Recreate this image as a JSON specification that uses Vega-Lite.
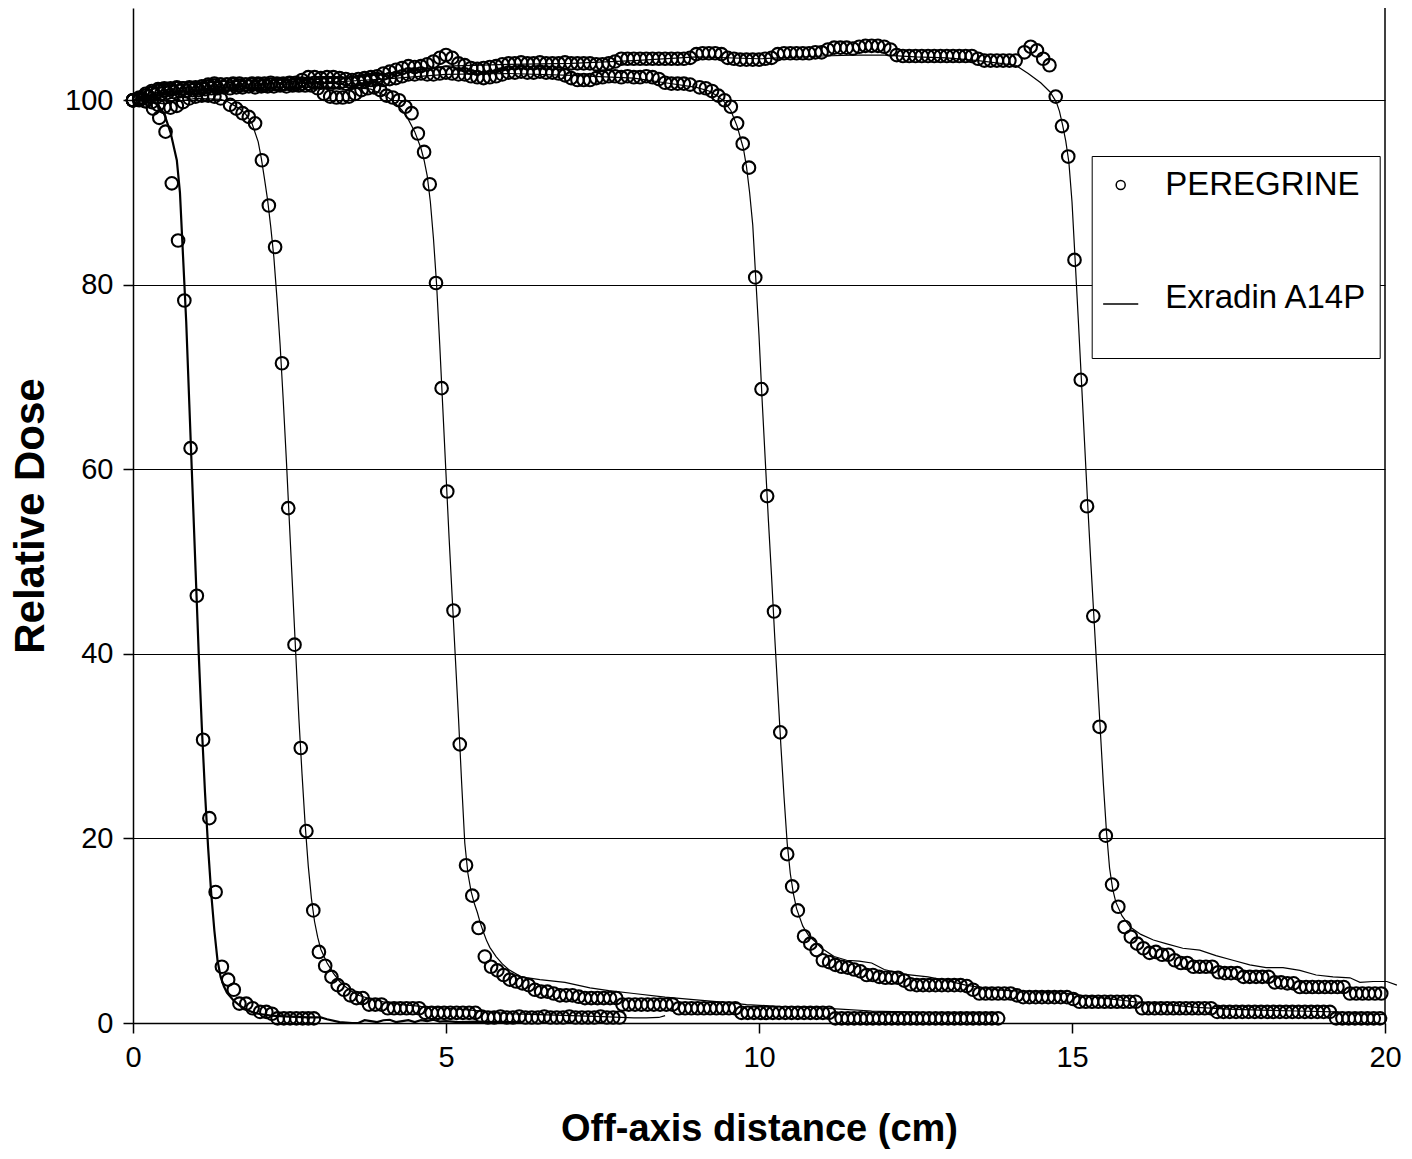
{
"$schema":"https://vega.github.io/schema/vega-lite/v6.json",
"width":1252,"height":1015,
"autosize":{"type":"none"},
"padding":{"left":133,"top":8,"right":27,"bottom":136},
"background":"white",
"config":{"view":{"stroke":null},"font":"Liberation Sans",
"axis":{"domainColor":"black","domainWidth":1.5,"tickColor":"black","tickWidth":1.5,"tickSize":10,"labelFont":"Liberation Sans","labelFontSize":29,"labelColor":"black","titleFont":"Liberation Sans","titleFontSize":38,"titleFontWeight":"bold","titleColor":"black","gridColor":"black","gridWidth":1,"gridOpacity":1,"labelFlush":false,"labelOverlap":false}},
"datasets":{
"pg":[
{"p":1,"x":0,"y":100},{"p":1,"x":0.1,"y":100},{"p":1,"x":0.2,"y":99.9},{"p":1,"x":0.32,"y":99.1},{"p":1,"x":0.42,"y":98.1},{"p":1,"x":0.52,"y":96.6},{"p":1,"x":0.62,"y":91},{"p":1,"x":0.72,"y":84.8},{"p":1,"x":0.82,"y":78.3},{"p":1,"x":0.92,"y":62.3},{"p":1,"x":1.02,"y":46.3},{"p":1,"x":1.12,"y":30.7},{"p":1,"x":1.22,"y":22.2},{"p":1,"x":1.32,"y":14.2},{"p":1,"x":1.42,"y":6.1},{"p":1,"x":1.52,"y":4.7},{"p":1,"x":1.61,"y":3.6},{"p":1,"x":1.7,"y":2.1},{"p":1,"x":1.81,"y":2.1},{"p":1,"x":1.91,"y":1.6},{"p":1,"x":2.03,"y":1.2},{"p":1,"x":2.13,"y":1.2},{"p":1,"x":2.22,"y":1.0},{"p":1,"x":2.31,"y":0.5},{"p":1,"x":2.41,"y":0.5},{"p":1,"x":2.51,"y":0.5},{"p":1,"x":2.61,"y":0.5},{"p":1,"x":2.71,"y":0.5},{"p":1,"x":2.8,"y":0.5},{"p":1,"x":2.89,"y":0.5},
{"p":2,"x":0,"y":100},{"p":2,"x":0.1,"y":100.1},{"p":2,"x":0.2,"y":99.9},{"p":2,"x":0.3,"y":99.8},{"p":2,"x":0.4,"y":99.5},{"p":2,"x":0.5,"y":99.3},{"p":2,"x":0.6,"y":99.2},{"p":2,"x":0.7,"y":99.4},{"p":2,"x":0.8,"y":99.8},{"p":2,"x":0.9,"y":100.2},{"p":2,"x":1.0,"y":100.4},{"p":2,"x":1.1,"y":100.5},{"p":2,"x":1.2,"y":100.5},{"p":2,"x":1.3,"y":100.4},{"p":2,"x":1.4,"y":100.2},{"p":2,"x":1.55,"y":99.5},{"p":2,"x":1.65,"y":99.1},{"p":2,"x":1.75,"y":98.6},{"p":2,"x":1.85,"y":98.2},{"p":2,"x":1.95,"y":97.5},{"p":2,"x":2.06,"y":93.5},{"p":2,"x":2.17,"y":88.6},{"p":2,"x":2.27,"y":84.1},{"p":2,"x":2.38,"y":71.5},{"p":2,"x":2.48,"y":55.8},{"p":2,"x":2.58,"y":41},{"p":2,"x":2.68,"y":29.8},{"p":2,"x":2.77,"y":20.8},{"p":2,"x":2.88,"y":12.2},{"p":2,"x":2.97,"y":7.7},{"p":2,"x":3.07,"y":6.2},{"p":2,"x":3.17,"y":5.0},{"p":2,"x":3.27,"y":4.1},{"p":2,"x":3.37,"y":3.6},{"p":2,"x":3.47,"y":3.0},{"p":2,"x":3.57,"y":2.7},{"p":2,"x":3.67,"y":2.7},{"p":2,"x":3.77,"y":2.0},{"p":2,"x":3.87,"y":2.0},{"p":2,"x":3.97,"y":2.0},{"p":2,"x":4.07,"y":1.6},{"p":2,"x":4.17,"y":1.6},{"p":2,"x":4.27,"y":1.6},{"p":2,"x":4.37,"y":1.6},{"p":2,"x":4.47,"y":1.6},{"p":2,"x":4.57,"y":1.6},{"p":2,"x":4.67,"y":1.1},{"p":2,"x":4.77,"y":1.1},{"p":2,"x":4.87,"y":1.1},{"p":2,"x":4.97,"y":1.1},{"p":2,"x":5.07,"y":1.1},{"p":2,"x":5.17,"y":1.1},{"p":2,"x":5.27,"y":1.1},{"p":2,"x":5.37,"y":1.1},{"p":2,"x":5.47,"y":1.1},{"p":2,"x":5.57,"y":0.7},{"p":2,"x":5.67,"y":0.6},{"p":2,"x":5.77,"y":0.6},{"p":2,"x":5.87,"y":0.7},{"p":2,"x":5.97,"y":0.6},{"p":2,"x":6.07,"y":0.6},{"p":2,"x":6.17,"y":0.7},{"p":2,"x":6.27,"y":0.6},{"p":2,"x":6.37,"y":0.6},{"p":2,"x":6.47,"y":0.6},{"p":2,"x":6.57,"y":0.7},{"p":2,"x":6.67,"y":0.6},{"p":2,"x":6.77,"y":0.6},{"p":2,"x":6.87,"y":0.6},{"p":2,"x":6.97,"y":0.7},{"p":2,"x":7.07,"y":0.6},{"p":2,"x":7.17,"y":0.6},{"p":2,"x":7.27,"y":0.6},{"p":2,"x":7.37,"y":0.6},{"p":2,"x":7.47,"y":0.7},{"p":2,"x":7.57,"y":0.6},{"p":2,"x":7.67,"y":0.6},{"p":2,"x":7.77,"y":0.6},
{"p":3,"x":0,"y":100},{"p":3,"x":0.15,"y":100.2},{"p":3,"x":0.25,"y":100.4},{"p":3,"x":0.35,"y":100.6},{"p":3,"x":0.45,"y":100.7},{"p":3,"x":0.55,"y":100.8},{"p":3,"x":0.65,"y":100.9},{"p":3,"x":0.75,"y":101.0},{"p":3,"x":0.85,"y":101.0},{"p":3,"x":0.95,"y":101.1},{"p":3,"x":1.05,"y":101.1},{"p":3,"x":1.15,"y":101.2},{"p":3,"x":1.25,"y":101.3},{"p":3,"x":1.35,"y":101.3},{"p":3,"x":1.45,"y":101.4},{"p":3,"x":1.55,"y":101.3},{"p":3,"x":1.65,"y":101.4},{"p":3,"x":1.75,"y":101.4},{"p":3,"x":1.85,"y":101.5},{"p":3,"x":1.95,"y":101.4},{"p":3,"x":2.05,"y":101.5},{"p":3,"x":2.15,"y":101.5},{"p":3,"x":2.25,"y":101.5},{"p":3,"x":2.35,"y":101.6},{"p":3,"x":2.45,"y":101.5},{"p":3,"x":2.55,"y":101.6},{"p":3,"x":2.65,"y":101.6},{"p":3,"x":2.75,"y":101.6},{"p":3,"x":2.85,"y":101.6},{"p":3,"x":2.95,"y":101.3},{"p":3,"x":3.05,"y":100.7},{"p":3,"x":3.15,"y":100.4},{"p":3,"x":3.25,"y":100.3},{"p":3,"x":3.35,"y":100.3},{"p":3,"x":3.45,"y":100.4},{"p":3,"x":3.55,"y":100.7},{"p":3,"x":3.65,"y":101.1},{"p":3,"x":3.75,"y":101.3},{"p":3,"x":3.85,"y":101.4},{"p":3,"x":3.95,"y":101.1},{"p":3,"x":4.05,"y":100.5},{"p":3,"x":4.15,"y":100.3},{"p":3,"x":4.25,"y":100.0},{"p":3,"x":4.35,"y":99.3},{"p":3,"x":4.45,"y":98.6},{"p":3,"x":4.55,"y":96.4},{"p":3,"x":4.65,"y":94.4},{"p":3,"x":4.74,"y":90.9},{"p":3,"x":4.84,"y":80.2},{"p":3,"x":4.93,"y":68.8},{"p":3,"x":5.02,"y":57.6},{"p":3,"x":5.12,"y":44.7},{"p":3,"x":5.22,"y":30.2},{"p":3,"x":5.32,"y":17.1},{"p":3,"x":5.42,"y":13.8},{"p":3,"x":5.52,"y":10.3},{"p":3,"x":5.62,"y":7.2},{"p":3,"x":5.72,"y":6.1},{"p":3,"x":5.82,"y":5.7},{"p":3,"x":5.92,"y":5.2},{"p":3,"x":6.02,"y":4.7},{"p":3,"x":6.12,"y":4.5},{"p":3,"x":6.22,"y":4.3},{"p":3,"x":6.32,"y":4.1},{"p":3,"x":6.42,"y":3.6},{"p":3,"x":6.52,"y":3.4},{"p":3,"x":6.62,"y":3.4},{"p":3,"x":6.72,"y":3.2},{"p":3,"x":6.82,"y":3.0},{"p":3,"x":6.92,"y":3.0},{"p":3,"x":7.02,"y":3.0},{"p":3,"x":7.12,"y":2.85},{"p":3,"x":7.22,"y":2.7},{"p":3,"x":7.32,"y":2.7},{"p":3,"x":7.42,"y":2.7},{"p":3,"x":7.52,"y":2.7},{"p":3,"x":7.62,"y":2.7},{"p":3,"x":7.72,"y":2.7},{"p":3,"x":7.82,"y":2.0},{"p":3,"x":7.92,"y":2.0},{"p":3,"x":8.02,"y":2.0},{"p":3,"x":8.12,"y":2.0},{"p":3,"x":8.22,"y":2.0},{"p":3,"x":8.32,"y":2.0},{"p":3,"x":8.42,"y":2.0},{"p":3,"x":8.52,"y":2.0},{"p":3,"x":8.62,"y":2.0},{"p":3,"x":8.72,"y":1.6},{"p":3,"x":8.82,"y":1.6},{"p":3,"x":8.92,"y":1.6},{"p":3,"x":9.02,"y":1.6},{"p":3,"x":9.12,"y":1.6},{"p":3,"x":9.22,"y":1.6},{"p":3,"x":9.32,"y":1.6},{"p":3,"x":9.42,"y":1.6},{"p":3,"x":9.52,"y":1.6},{"p":3,"x":9.62,"y":1.6},{"p":3,"x":9.72,"y":1.1},{"p":3,"x":9.82,"y":1.1},{"p":3,"x":9.92,"y":1.1},{"p":3,"x":10.02,"y":1.1},{"p":3,"x":10.12,"y":1.1},{"p":3,"x":10.22,"y":1.1},{"p":3,"x":10.32,"y":1.1},{"p":3,"x":10.42,"y":1.1},{"p":3,"x":10.52,"y":1.1},{"p":3,"x":10.62,"y":1.1},{"p":3,"x":10.72,"y":1.1},{"p":3,"x":10.82,"y":1.1},{"p":3,"x":10.92,"y":1.1},{"p":3,"x":11.02,"y":1.1},{"p":3,"x":11.12,"y":1.1},{"p":3,"x":11.22,"y":0.5},{"p":3,"x":11.32,"y":0.5},{"p":3,"x":11.42,"y":0.5},{"p":3,"x":11.52,"y":0.5},{"p":3,"x":11.62,"y":0.5},{"p":3,"x":11.72,"y":0.5},{"p":3,"x":11.82,"y":0.5},{"p":3,"x":11.92,"y":0.5},{"p":3,"x":12.02,"y":0.5},{"p":3,"x":12.12,"y":0.5},{"p":3,"x":12.22,"y":0.5},{"p":3,"x":12.32,"y":0.5},{"p":3,"x":12.42,"y":0.5},{"p":3,"x":12.52,"y":0.5},{"p":3,"x":12.62,"y":0.5},{"p":3,"x":12.72,"y":0.5},{"p":3,"x":12.82,"y":0.5},{"p":3,"x":12.92,"y":0.5},{"p":3,"x":13.02,"y":0.5},{"p":3,"x":13.12,"y":0.5},{"p":3,"x":13.22,"y":0.5},{"p":3,"x":13.32,"y":0.5},{"p":3,"x":13.42,"y":0.5},{"p":3,"x":13.52,"y":0.5},{"p":3,"x":13.62,"y":0.5},{"p":3,"x":13.72,"y":0.5},{"p":3,"x":13.82,"y":0.5},
{"p":4,"x":0,"y":100},{"p":4,"x":0.1,"y":100.2},{"p":4,"x":0.2,"y":100.5},{"p":4,"x":0.3,"y":100.8},{"p":4,"x":0.4,"y":101.0},{"p":4,"x":0.5,"y":101.1},{"p":4,"x":0.6,"y":101.2},{"p":4,"x":0.7,"y":101.3},{"p":4,"x":0.8,"y":101.3},{"p":4,"x":0.9,"y":101.3},{"p":4,"x":1.0,"y":101.3},{"p":4,"x":1.1,"y":101.3},{"p":4,"x":1.2,"y":101.5},{"p":4,"x":1.3,"y":101.6},{"p":4,"x":1.4,"y":101.7},{"p":4,"x":1.5,"y":101.7},{"p":4,"x":1.6,"y":101.7},{"p":4,"x":1.7,"y":101.6},{"p":4,"x":1.8,"y":101.7},{"p":4,"x":1.9,"y":101.7},{"p":4,"x":2.0,"y":101.7},{"p":4,"x":2.1,"y":101.6},{"p":4,"x":2.2,"y":101.7},{"p":4,"x":2.3,"y":101.7},{"p":4,"x":2.4,"y":101.7},{"p":4,"x":2.5,"y":101.8},{"p":4,"x":2.6,"y":101.7},{"p":4,"x":2.7,"y":101.8},{"p":4,"x":2.8,"y":101.8},{"p":4,"x":2.9,"y":101.9},{"p":4,"x":3.0,"y":101.9},{"p":4,"x":3.1,"y":101.9},{"p":4,"x":3.2,"y":101.9},{"p":4,"x":3.3,"y":101.9},{"p":4,"x":3.4,"y":101.8},{"p":4,"x":3.5,"y":101.9},{"p":4,"x":3.6,"y":102.0},{"p":4,"x":3.7,"y":102.1},{"p":4,"x":3.8,"y":102.2},{"p":4,"x":3.9,"y":102.3},{"p":4,"x":4.0,"y":102.2},{"p":4,"x":4.1,"y":102.3},{"p":4,"x":4.2,"y":102.4},{"p":4,"x":4.3,"y":102.6},{"p":4,"x":4.4,"y":102.8},{"p":4,"x":4.5,"y":102.8},{"p":4,"x":4.6,"y":102.9},{"p":4,"x":4.7,"y":102.8},{"p":4,"x":4.8,"y":102.8},{"p":4,"x":4.9,"y":102.9},{"p":4,"x":5.0,"y":103.0},{"p":4,"x":5.1,"y":102.9},{"p":4,"x":5.2,"y":102.8},{"p":4,"x":5.3,"y":102.8},{"p":4,"x":5.4,"y":102.6},{"p":4,"x":5.5,"y":102.5},{"p":4,"x":5.6,"y":102.4},{"p":4,"x":5.7,"y":102.5},{"p":4,"x":5.8,"y":102.6},{"p":4,"x":5.9,"y":102.8},{"p":4,"x":6.0,"y":103.0},{"p":4,"x":6.1,"y":103.0},{"p":4,"x":6.2,"y":103.1},{"p":4,"x":6.3,"y":103.0},{"p":4,"x":6.4,"y":103.0},{"p":4,"x":6.5,"y":103.1},{"p":4,"x":6.6,"y":103.0},{"p":4,"x":6.7,"y":103.0},{"p":4,"x":6.8,"y":102.9},{"p":4,"x":6.9,"y":102.7},{"p":4,"x":7.0,"y":102.4},{"p":4,"x":7.1,"y":102.2},{"p":4,"x":7.2,"y":102.2},{"p":4,"x":7.3,"y":102.2},{"p":4,"x":7.4,"y":102.4},{"p":4,"x":7.5,"y":102.5},{"p":4,"x":7.6,"y":102.6},{"p":4,"x":7.7,"y":102.6},{"p":4,"x":7.8,"y":102.5},{"p":4,"x":7.9,"y":102.6},{"p":4,"x":8.0,"y":102.5},{"p":4,"x":8.1,"y":102.5},{"p":4,"x":8.2,"y":102.6},{"p":4,"x":8.3,"y":102.5},{"p":4,"x":8.4,"y":102.3},{"p":4,"x":8.5,"y":101.9},{"p":4,"x":8.6,"y":101.8},{"p":4,"x":8.7,"y":101.8},{"p":4,"x":8.8,"y":101.8},{"p":4,"x":8.9,"y":101.7},{"p":4,"x":9.05,"y":101.4},{"p":4,"x":9.15,"y":101.3},{"p":4,"x":9.25,"y":101.0},{"p":4,"x":9.35,"y":100.5},{"p":4,"x":9.45,"y":100.0},{"p":4,"x":9.55,"y":99.3},{"p":4,"x":9.65,"y":97.5},{"p":4,"x":9.74,"y":95.3},{"p":4,"x":9.84,"y":92.7},{"p":4,"x":9.94,"y":80.8},{"p":4,"x":10.04,"y":68.7},{"p":4,"x":10.13,"y":57.1},{"p":4,"x":10.24,"y":44.6},{"p":4,"x":10.34,"y":31.5},{"p":4,"x":10.45,"y":18.3},{"p":4,"x":10.53,"y":14.8},{"p":4,"x":10.62,"y":12.2},{"p":4,"x":10.72,"y":9.4},{"p":4,"x":10.82,"y":8.6},{"p":4,"x":10.92,"y":7.9},{"p":4,"x":11.02,"y":6.8},{"p":4,"x":11.12,"y":6.6},{"p":4,"x":11.22,"y":6.3},{"p":4,"x":11.32,"y":6.1},{"p":4,"x":11.42,"y":6.0},{"p":4,"x":11.52,"y":5.8},{"p":4,"x":11.62,"y":5.6},{"p":4,"x":11.72,"y":5.2},{"p":4,"x":11.82,"y":5.2},{"p":4,"x":11.92,"y":5.0},{"p":4,"x":12.02,"y":4.9},{"p":4,"x":12.12,"y":4.9},{"p":4,"x":12.22,"y":4.9},{"p":4,"x":12.32,"y":4.6},{"p":4,"x":12.42,"y":4.2},{"p":4,"x":12.52,"y":4.1},{"p":4,"x":12.62,"y":4.1},{"p":4,"x":12.72,"y":4.1},{"p":4,"x":12.82,"y":4.1},{"p":4,"x":12.92,"y":4.1},{"p":4,"x":13.02,"y":4.1},{"p":4,"x":13.12,"y":4.1},{"p":4,"x":13.22,"y":4.1},{"p":4,"x":13.32,"y":4.0},{"p":4,"x":13.42,"y":3.6},{"p":4,"x":13.52,"y":3.2},{"p":4,"x":13.62,"y":3.2},{"p":4,"x":13.72,"y":3.2},{"p":4,"x":13.82,"y":3.2},{"p":4,"x":13.92,"y":3.2},{"p":4,"x":14.02,"y":3.2},{"p":4,"x":14.12,"y":3.0},{"p":4,"x":14.22,"y":2.8},{"p":4,"x":14.32,"y":2.8},{"p":4,"x":14.42,"y":2.8},{"p":4,"x":14.52,"y":2.8},{"p":4,"x":14.62,"y":2.8},{"p":4,"x":14.72,"y":2.8},{"p":4,"x":14.82,"y":2.8},{"p":4,"x":14.92,"y":2.8},{"p":4,"x":15.02,"y":2.6},{"p":4,"x":15.12,"y":2.3},{"p":4,"x":15.22,"y":2.3},{"p":4,"x":15.32,"y":2.3},{"p":4,"x":15.42,"y":2.3},{"p":4,"x":15.52,"y":2.3},{"p":4,"x":15.62,"y":2.3},{"p":4,"x":15.72,"y":2.3},{"p":4,"x":15.82,"y":2.3},{"p":4,"x":15.92,"y":2.3},{"p":4,"x":16.02,"y":2.3},{"p":4,"x":16.12,"y":1.6},{"p":4,"x":16.22,"y":1.6},{"p":4,"x":16.32,"y":1.6},{"p":4,"x":16.42,"y":1.6},{"p":4,"x":16.52,"y":1.6},{"p":4,"x":16.62,"y":1.6},{"p":4,"x":16.72,"y":1.6},{"p":4,"x":16.82,"y":1.6},{"p":4,"x":16.92,"y":1.6},{"p":4,"x":17.02,"y":1.6},{"p":4,"x":17.12,"y":1.6},{"p":4,"x":17.22,"y":1.6},{"p":4,"x":17.32,"y":1.2},{"p":4,"x":17.42,"y":1.2},{"p":4,"x":17.52,"y":1.2},{"p":4,"x":17.62,"y":1.2},{"p":4,"x":17.72,"y":1.2},{"p":4,"x":17.82,"y":1.2},{"p":4,"x":17.92,"y":1.2},{"p":4,"x":18.02,"y":1.2},{"p":4,"x":18.12,"y":1.2},{"p":4,"x":18.22,"y":1.2},{"p":4,"x":18.32,"y":1.2},{"p":4,"x":18.42,"y":1.2},{"p":4,"x":18.52,"y":1.2},{"p":4,"x":18.62,"y":1.2},{"p":4,"x":18.72,"y":1.2},{"p":4,"x":18.82,"y":1.2},{"p":4,"x":18.92,"y":1.2},{"p":4,"x":19.02,"y":1.2},{"p":4,"x":19.12,"y":1.2},{"p":4,"x":19.22,"y":0.5},{"p":4,"x":19.32,"y":0.5},{"p":4,"x":19.42,"y":0.5},{"p":4,"x":19.52,"y":0.5},{"p":4,"x":19.62,"y":0.5},{"p":4,"x":19.72,"y":0.5},{"p":4,"x":19.82,"y":0.5},{"p":4,"x":19.92,"y":0.5},
{"p":5,"x":0,"y":100},{"p":5,"x":0.1,"y":100.3},{"p":5,"x":0.2,"y":100.7},{"p":5,"x":0.3,"y":101.0},{"p":5,"x":0.4,"y":101.2},{"p":5,"x":0.5,"y":101.3},{"p":5,"x":0.6,"y":101.3},{"p":5,"x":0.7,"y":101.4},{"p":5,"x":0.8,"y":101.3},{"p":5,"x":0.9,"y":101.4},{"p":5,"x":1.0,"y":101.4},{"p":5,"x":1.1,"y":101.5},{"p":5,"x":1.2,"y":101.7},{"p":5,"x":1.3,"y":101.8},{"p":5,"x":1.4,"y":101.7},{"p":5,"x":1.5,"y":101.7},{"p":5,"x":1.6,"y":101.8},{"p":5,"x":1.7,"y":101.8},{"p":5,"x":1.8,"y":101.7},{"p":5,"x":1.9,"y":101.8},{"p":5,"x":2.0,"y":101.8},{"p":5,"x":2.1,"y":101.8},{"p":5,"x":2.2,"y":101.9},{"p":5,"x":2.3,"y":101.8},{"p":5,"x":2.4,"y":101.8},{"p":5,"x":2.5,"y":101.9},{"p":5,"x":2.6,"y":101.9},{"p":5,"x":2.7,"y":102.2},{"p":5,"x":2.8,"y":102.5},{"p":5,"x":2.9,"y":102.5},{"p":5,"x":3.0,"y":102.4},{"p":5,"x":3.1,"y":102.5},{"p":5,"x":3.2,"y":102.5},{"p":5,"x":3.3,"y":102.4},{"p":5,"x":3.4,"y":102.3},{"p":5,"x":3.5,"y":102.2},{"p":5,"x":3.6,"y":102.3},{"p":5,"x":3.7,"y":102.4},{"p":5,"x":3.8,"y":102.5},{"p":5,"x":3.9,"y":102.6},{"p":5,"x":4.0,"y":102.9},{"p":5,"x":4.1,"y":103.1},{"p":5,"x":4.2,"y":103.3},{"p":5,"x":4.3,"y":103.5},{"p":5,"x":4.4,"y":103.7},{"p":5,"x":4.5,"y":103.6},{"p":5,"x":4.6,"y":103.7},{"p":5,"x":4.7,"y":103.9},{"p":5,"x":4.8,"y":104.2},{"p":5,"x":4.9,"y":104.6},{"p":5,"x":5.0,"y":104.9},{"p":5,"x":5.1,"y":104.6},{"p":5,"x":5.2,"y":104.0},{"p":5,"x":5.3,"y":103.8},{"p":5,"x":5.4,"y":103.5},{"p":5,"x":5.5,"y":103.4},{"p":5,"x":5.6,"y":103.5},{"p":5,"x":5.7,"y":103.6},{"p":5,"x":5.8,"y":103.7},{"p":5,"x":5.9,"y":103.9},{"p":5,"x":6.0,"y":104.0},{"p":5,"x":6.1,"y":104.0},{"p":5,"x":6.2,"y":104.1},{"p":5,"x":6.3,"y":104.0},{"p":5,"x":6.4,"y":104.0},{"p":5,"x":6.5,"y":104.1},{"p":5,"x":6.6,"y":104.0},{"p":5,"x":6.7,"y":104.0},{"p":5,"x":6.8,"y":104.0},{"p":5,"x":6.9,"y":104.1},{"p":5,"x":7.0,"y":104.0},{"p":5,"x":7.1,"y":104.0},{"p":5,"x":7.2,"y":104.0},{"p":5,"x":7.3,"y":104.0},{"p":5,"x":7.4,"y":103.9},{"p":5,"x":7.5,"y":103.9},{"p":5,"x":7.6,"y":104.0},{"p":5,"x":7.7,"y":104.2},{"p":5,"x":7.8,"y":104.5},{"p":5,"x":7.9,"y":104.5},{"p":5,"x":8.0,"y":104.5},{"p":5,"x":8.1,"y":104.5},{"p":5,"x":8.2,"y":104.5},{"p":5,"x":8.3,"y":104.5},{"p":5,"x":8.4,"y":104.5},{"p":5,"x":8.5,"y":104.5},{"p":5,"x":8.6,"y":104.5},{"p":5,"x":8.7,"y":104.5},{"p":5,"x":8.8,"y":104.5},{"p":5,"x":8.9,"y":104.6},{"p":5,"x":9.0,"y":105.0},{"p":5,"x":9.1,"y":105.1},{"p":5,"x":9.2,"y":105.1},{"p":5,"x":9.3,"y":105.1},{"p":5,"x":9.4,"y":105.0},{"p":5,"x":9.5,"y":104.6},{"p":5,"x":9.6,"y":104.5},{"p":5,"x":9.7,"y":104.4},{"p":5,"x":9.8,"y":104.4},{"p":5,"x":9.9,"y":104.4},{"p":5,"x":10.0,"y":104.4},{"p":5,"x":10.1,"y":104.5},{"p":5,"x":10.2,"y":104.6},{"p":5,"x":10.3,"y":105.0},{"p":5,"x":10.4,"y":105.1},{"p":5,"x":10.5,"y":105.1},{"p":5,"x":10.6,"y":105.1},{"p":5,"x":10.7,"y":105.1},{"p":5,"x":10.8,"y":105.1},{"p":5,"x":10.9,"y":105.2},{"p":5,"x":11.0,"y":105.2},{"p":5,"x":11.1,"y":105.5},{"p":5,"x":11.2,"y":105.7},{"p":5,"x":11.3,"y":105.7},{"p":5,"x":11.4,"y":105.7},{"p":5,"x":11.5,"y":105.6},{"p":5,"x":11.6,"y":105.8},{"p":5,"x":11.7,"y":105.9},{"p":5,"x":11.8,"y":105.9},{"p":5,"x":11.9,"y":105.9},{"p":5,"x":12.0,"y":105.8},{"p":5,"x":12.1,"y":105.5},{"p":5,"x":12.2,"y":104.9},{"p":5,"x":12.3,"y":104.8},{"p":5,"x":12.4,"y":104.8},{"p":5,"x":12.5,"y":104.8},{"p":5,"x":12.6,"y":104.8},{"p":5,"x":12.7,"y":104.8},{"p":5,"x":12.8,"y":104.8},{"p":5,"x":12.9,"y":104.8},{"p":5,"x":13.0,"y":104.8},{"p":5,"x":13.1,"y":104.8},{"p":5,"x":13.2,"y":104.8},{"p":5,"x":13.3,"y":104.8},{"p":5,"x":13.4,"y":104.8},{"p":5,"x":13.5,"y":104.5},{"p":5,"x":13.6,"y":104.3},{"p":5,"x":13.7,"y":104.3},{"p":5,"x":13.8,"y":104.3},{"p":5,"x":13.9,"y":104.3},{"p":5,"x":14.0,"y":104.3},{"p":5,"x":14.1,"y":104.3},{"p":5,"x":14.24,"y":105.2},{"p":5,"x":14.34,"y":105.8},{"p":5,"x":14.44,"y":105.4},{"p":5,"x":14.54,"y":104.5},{"p":5,"x":14.64,"y":103.8},{"p":5,"x":14.74,"y":100.4},{"p":5,"x":14.84,"y":97.2},{"p":5,"x":14.94,"y":93.9},{"p":5,"x":15.04,"y":82.7},{"p":5,"x":15.14,"y":69.7},{"p":5,"x":15.24,"y":56.0},{"p":5,"x":15.34,"y":44.1},{"p":5,"x":15.44,"y":32.1},{"p":5,"x":15.54,"y":20.3},{"p":5,"x":15.64,"y":15.0},{"p":5,"x":15.74,"y":12.6},{"p":5,"x":15.84,"y":10.4},{"p":5,"x":15.94,"y":9.35},{"p":5,"x":16.04,"y":8.6},{"p":5,"x":16.14,"y":8.1},{"p":5,"x":16.24,"y":7.6},{"p":5,"x":16.34,"y":7.7},{"p":5,"x":16.44,"y":7.4},{"p":5,"x":16.54,"y":7.4},{"p":5,"x":16.64,"y":6.8},{"p":5,"x":16.74,"y":6.5},{"p":5,"x":16.84,"y":6.5},{"p":5,"x":16.94,"y":6.1},{"p":5,"x":17.04,"y":6.1},{"p":5,"x":17.14,"y":6.1},{"p":5,"x":17.24,"y":6.1},{"p":5,"x":17.34,"y":5.5},{"p":5,"x":17.44,"y":5.4},{"p":5,"x":17.54,"y":5.4},{"p":5,"x":17.64,"y":5.4},{"p":5,"x":17.74,"y":5.0},{"p":5,"x":17.84,"y":5.0},{"p":5,"x":17.94,"y":5.0},{"p":5,"x":18.04,"y":5.0},{"p":5,"x":18.14,"y":5.0},{"p":5,"x":18.24,"y":4.4},{"p":5,"x":18.34,"y":4.4},{"p":5,"x":18.44,"y":4.3},{"p":5,"x":18.54,"y":4.3},{"p":5,"x":18.64,"y":3.9},{"p":5,"x":18.74,"y":3.9},{"p":5,"x":18.84,"y":3.9},{"p":5,"x":18.94,"y":3.9},{"p":5,"x":19.04,"y":3.9},{"p":5,"x":19.14,"y":3.9},{"p":5,"x":19.24,"y":3.9},{"p":5,"x":19.34,"y":3.9},{"p":5,"x":19.44,"y":3.2},{"p":5,"x":19.54,"y":3.2},{"p":5,"x":19.64,"y":3.2},{"p":5,"x":19.74,"y":3.2},{"p":5,"x":19.84,"y":3.2},{"p":5,"x":19.94,"y":3.2}
],
"ex":[
{"p":1,"x":0,"y":100},{"p":1,"x":0.2,"y":100.2},{"p":1,"x":0.4,"y":99.5},{"p":1,"x":0.5,"y":98.5},{"p":1,"x":0.6,"y":96.5},{"p":1,"x":0.7,"y":93.5},{"p":1,"x":0.75,"y":90},{"p":1,"x":0.8,"y":83},{"p":1,"x":0.85,"y":76},{"p":1,"x":0.9,"y":67},{"p":1,"x":0.95,"y":58},{"p":1,"x":1.0,"y":49},{"p":1,"x":1.05,"y":40},{"p":1,"x":1.1,"y":32},{"p":1,"x":1.15,"y":25},{"p":1,"x":1.2,"y":19},{"p":1,"x":1.25,"y":14},{"p":1,"x":1.3,"y":10},{"p":1,"x":1.35,"y":6.8},{"p":1,"x":1.4,"y":5.0},{"p":1,"x":1.45,"y":4.0},{"p":1,"x":1.5,"y":3.3},{"p":1,"x":1.6,"y":2.5},{"p":1,"x":1.7,"y":1.9},{"p":1,"x":1.8,"y":1.5},{"p":1,"x":1.9,"y":1.2},{"p":1,"x":2.0,"y":1.0},{"p":1,"x":2.2,"y":0.8},{"p":1,"x":2.5,"y":0.7},{"p":1,"x":2.8,"y":0.6},{"p":1,"x":3.0,"y":0.6},{"p":1,"x":3.1,"y":0.4},{"p":1,"x":3.3,"y":0.1},{"p":1,"x":3.5,"y":0},{"p":1,"x":3.6,"y":0},{"p":1,"x":3.7,"y":0.3},{"p":1,"x":3.8,"y":0.2},{"p":1,"x":3.9,"y":0.1},{"p":1,"x":4.0,"y":0.3},{"p":1,"x":4.1,"y":0.35},{"p":1,"x":4.2,"y":0.1},{"p":1,"x":4.3,"y":0.2},{"p":1,"x":4.4,"y":0.3},{"p":1,"x":4.5,"y":0.1},{"p":1,"x":4.6,"y":0.3},{"p":1,"x":4.7,"y":0.2},{"p":1,"x":4.8,"y":0.35},{"p":1,"x":4.9,"y":0.15},{"p":1,"x":5.0,"y":0.2},{"p":1,"x":5.2,"y":0.1},{"p":1,"x":5.5,"y":0.15},{"p":1,"x":5.8,"y":0.1},{"p":1,"x":6.2,"y":0.1},
{"p":2,"x":0,"y":100},{"p":2,"x":0.5,"y":99.6},{"p":2,"x":1.0,"y":100.2},{"p":2,"x":1.4,"y":100.1},{"p":2,"x":1.5,"y":99.9},{"p":2,"x":1.6,"y":99.5},{"p":2,"x":1.7,"y":99.1},{"p":2,"x":1.8,"y":98.5},{"p":2,"x":1.9,"y":97.5},{"p":2,"x":2.0,"y":95.5},{"p":2,"x":2.05,"y":93.7},{"p":2,"x":2.1,"y":91.5},{"p":2,"x":2.15,"y":89.2},{"p":2,"x":2.2,"y":86.3},{"p":2,"x":2.25,"y":83},{"p":2,"x":2.3,"y":78.5},{"p":2,"x":2.35,"y":73.5},{"p":2,"x":2.4,"y":67.5},{"p":2,"x":2.45,"y":61},{"p":2,"x":2.5,"y":54},{"p":2,"x":2.55,"y":47},{"p":2,"x":2.6,"y":40},{"p":2,"x":2.65,"y":33},{"p":2,"x":2.7,"y":27},{"p":2,"x":2.75,"y":21.5},{"p":2,"x":2.8,"y":17},{"p":2,"x":2.85,"y":13.5},{"p":2,"x":2.9,"y":11},{"p":2,"x":2.95,"y":9.3},{"p":2,"x":3.0,"y":8.0},{"p":2,"x":3.1,"y":6.5},{"p":2,"x":3.2,"y":5.4},{"p":2,"x":3.3,"y":4.5},{"p":2,"x":3.4,"y":3.9},{"p":2,"x":3.5,"y":3.4},{"p":2,"x":3.6,"y":3.0},{"p":2,"x":3.8,"y":2.6},{"p":2,"x":4.0,"y":2.3},{"p":2,"x":4.3,"y":2.0},{"p":2,"x":4.6,"y":1.8},{"p":2,"x":5.0,"y":1.6},{"p":2,"x":5.4,"y":1.4},{"p":2,"x":5.7,"y":1.2},{"p":2,"x":6.0,"y":1.0},{"p":2,"x":6.5,"y":0.9},{"p":2,"x":7.0,"y":0.8},{"p":2,"x":7.5,"y":0.7},{"p":2,"x":7.8,"y":0.6},{"p":2,"x":8.0,"y":0.55},{"p":2,"x":8.2,"y":0.55},{"p":2,"x":8.4,"y":0.6},{"p":2,"x":8.5,"y":0.8},
{"p":3,"x":0,"y":100},{"p":3,"x":0.5,"y":100.7},{"p":3,"x":1.0,"y":101.0},{"p":3,"x":1.5,"y":101.2},{"p":3,"x":2.0,"y":101.3},{"p":3,"x":2.5,"y":101.4},{"p":3,"x":3.0,"y":101.4},{"p":3,"x":3.5,"y":101.4},{"p":3,"x":3.8,"y":101.2},{"p":3,"x":4.0,"y":100.6},{"p":3,"x":4.1,"y":100.2},{"p":3,"x":4.2,"y":99.6},{"p":3,"x":4.3,"y":98.9},{"p":3,"x":4.4,"y":97.9},{"p":3,"x":4.5,"y":96.6},{"p":3,"x":4.6,"y":94.8},{"p":3,"x":4.65,"y":93.5},{"p":3,"x":4.7,"y":91.8},{"p":3,"x":4.75,"y":89.0},{"p":3,"x":4.8,"y":85.0},{"p":3,"x":4.85,"y":80.0},{"p":3,"x":4.9,"y":73.5},{"p":3,"x":4.95,"y":66.5},{"p":3,"x":5.0,"y":59.5},{"p":3,"x":5.05,"y":52.5},{"p":3,"x":5.1,"y":46.0},{"p":3,"x":5.15,"y":39.5},{"p":3,"x":5.2,"y":33.0},{"p":3,"x":5.25,"y":26.0},{"p":3,"x":5.3,"y":19.5},{"p":3,"x":5.35,"y":16.2},{"p":3,"x":5.4,"y":14.3},{"p":3,"x":5.45,"y":13.0},{"p":3,"x":5.5,"y":12.0},{"p":3,"x":5.55,"y":10.8},{"p":3,"x":5.6,"y":9.8},{"p":3,"x":5.65,"y":8.9},{"p":3,"x":5.7,"y":8.2},{"p":3,"x":5.8,"y":7.2},{"p":3,"x":5.9,"y":6.4},{"p":3,"x":6.0,"y":5.8},{"p":3,"x":6.2,"y":5.0},{"p":3,"x":6.5,"y":4.7},{"p":3,"x":6.9,"y":4.4},{"p":3,"x":7.1,"y":4.1},{"p":3,"x":7.3,"y":3.8},{"p":3,"x":7.6,"y":3.5},{"p":3,"x":8.0,"y":3.2},{"p":3,"x":8.5,"y":2.8},{"p":3,"x":9.0,"y":2.5},{"p":3,"x":9.5,"y":2.2},{"p":3,"x":9.8,"y":2.0},{"p":3,"x":10.3,"y":1.8},{"p":3,"x":10.8,"y":1.7},{"p":3,"x":11.3,"y":1.5},{"p":3,"x":11.8,"y":1.3},{"p":3,"x":12.3,"y":1.2},{"p":3,"x":12.8,"y":1.1},{"p":3,"x":13.3,"y":1.0},{"p":3,"x":13.8,"y":1.0},
{"p":4,"x":0,"y":100},{"p":4,"x":0.5,"y":100.9},{"p":4,"x":1.0,"y":101.2},{"p":4,"x":2.0,"y":101.6},{"p":4,"x":3.0,"y":101.9},{"p":4,"x":4.0,"y":102.3},{"p":4,"x":5.0,"y":102.8},{"p":4,"x":6.0,"y":102.9},{"p":4,"x":7.0,"y":102.7},{"p":4,"x":8.0,"y":102.4},{"p":4,"x":8.5,"y":101.9},{"p":4,"x":9.0,"y":101.4},{"p":4,"x":9.2,"y":101.0},{"p":4,"x":9.35,"y":100.4},{"p":4,"x":9.45,"y":99.8},{"p":4,"x":9.55,"y":98.9},{"p":4,"x":9.65,"y":97.2},{"p":4,"x":9.75,"y":94.8},{"p":4,"x":9.8,"y":92.8},{"p":4,"x":9.85,"y":90.0},{"p":4,"x":9.9,"y":86.5},{"p":4,"x":9.95,"y":80.5},{"p":4,"x":10.0,"y":74.5},{"p":4,"x":10.05,"y":67.5},{"p":4,"x":10.1,"y":61.0},{"p":4,"x":10.15,"y":54.5},{"p":4,"x":10.2,"y":48.5},{"p":4,"x":10.25,"y":42.0},{"p":4,"x":10.3,"y":36.0},{"p":4,"x":10.35,"y":30.0},{"p":4,"x":10.4,"y":24.5},{"p":4,"x":10.45,"y":19.5},{"p":4,"x":10.5,"y":16.2},{"p":4,"x":10.55,"y":14.0},{"p":4,"x":10.6,"y":12.4},{"p":4,"x":10.7,"y":10.5},{"p":4,"x":10.8,"y":9.4},{"p":4,"x":10.9,"y":8.8},{"p":4,"x":11.0,"y":8.1},{"p":4,"x":11.2,"y":7.2},{"p":4,"x":11.4,"y":6.8},{"p":4,"x":11.6,"y":6.7},{"p":4,"x":11.8,"y":6.5},{"p":4,"x":12.0,"y":5.8},{"p":4,"x":12.3,"y":5.3},{"p":4,"x":12.7,"y":5.0},{"p":4,"x":13.0,"y":4.6},{"p":4,"x":13.3,"y":4.1},{"p":4,"x":13.8,"y":3.6},{"p":4,"x":14.3,"y":3.4},{"p":4,"x":14.9,"y":3.2},{"p":4,"x":15.5,"y":2.7},{"p":4,"x":16.0,"y":2.3},{"p":4,"x":16.5,"y":2.0},{"p":4,"x":17.0,"y":1.7},{"p":4,"x":17.5,"y":1.5},{"p":4,"x":18.0,"y":1.4},{"p":4,"x":18.6,"y":1.3},{"p":4,"x":19.2,"y":1.2},{"p":4,"x":19.6,"y":1.0},{"p":4,"x":20.0,"y":0.9},
{"p":5,"x":0,"y":100},{"p":5,"x":0.5,"y":101.1},{"p":5,"x":1.0,"y":101.4},{"p":5,"x":2.0,"y":101.7},{"p":5,"x":3.0,"y":102.3},{"p":5,"x":4.0,"y":102.8},{"p":5,"x":5.0,"y":103.7},{"p":5,"x":6.0,"y":103.9},{"p":5,"x":7.0,"y":104.0},{"p":5,"x":8.0,"y":104.3},{"p":5,"x":9.0,"y":104.7},{"p":5,"x":10.0,"y":104.5},{"p":5,"x":11.0,"y":104.8},{"p":5,"x":11.5,"y":104.9},{"p":5,"x":12.0,"y":104.9},{"p":5,"x":12.5,"y":104.7},{"p":5,"x":13.0,"y":104.6},{"p":5,"x":13.5,"y":104.3},{"p":5,"x":14.1,"y":103.8},{"p":5,"x":14.3,"y":102.9},{"p":5,"x":14.5,"y":101.9},{"p":5,"x":14.65,"y":100.9},{"p":5,"x":14.75,"y":99.8},{"p":5,"x":14.8,"y":98.8},{"p":5,"x":14.85,"y":97.3},{"p":5,"x":14.9,"y":95.6},{"p":5,"x":14.95,"y":93.3},{"p":5,"x":15.0,"y":89.0},{"p":5,"x":15.05,"y":82.7},{"p":5,"x":15.1,"y":76.3},{"p":5,"x":15.15,"y":69.7},{"p":5,"x":15.2,"y":63.0},{"p":5,"x":15.25,"y":56.3},{"p":5,"x":15.3,"y":50.0},{"p":5,"x":15.35,"y":44.0},{"p":5,"x":15.4,"y":38.0},{"p":5,"x":15.45,"y":32.0},{"p":5,"x":15.5,"y":26.0},{"p":5,"x":15.55,"y":20.8},{"p":5,"x":15.6,"y":16.8},{"p":5,"x":15.65,"y":14.5},{"p":5,"x":15.7,"y":13.1},{"p":5,"x":15.8,"y":11.6},{"p":5,"x":15.93,"y":10.4},{"p":5,"x":16.1,"y":9.6},{"p":5,"x":16.3,"y":9.0},{"p":5,"x":16.5,"y":8.6},{"p":5,"x":16.77,"y":8.1},{"p":5,"x":17.04,"y":7.9},{"p":5,"x":17.3,"y":7.3},{"p":5,"x":17.57,"y":6.8},{"p":5,"x":17.84,"y":6.3},{"p":5,"x":18.1,"y":6.0},{"p":5,"x":18.37,"y":6.0},{"p":5,"x":18.64,"y":5.7},{"p":5,"x":18.9,"y":5.2},{"p":5,"x":19.17,"y":5.0},{"p":5,"x":19.44,"y":4.9},{"p":5,"x":19.6,"y":4.4},{"p":5,"x":19.81,"y":4.5},{"p":5,"x":20.03,"y":4.5},{"p":5,"x":20.19,"y":4.1}
]},
"layer":[
{"encoding":{
"x":{"field":"x","type":"quantitative","title":"Off-axis distance (cm)","scale":{"domain":[0,20],"nice":false,"zero":false},"axis":{"values":[0,5,10,15,20],"grid":false,"labelPadding":10,"titlePadding":38,"format":"d"}},
"y":{"field":"y","type":"quantitative","title":"Relative Dose","scale":{"domain":[0,110],"nice":false},"axis":{"values":[0,20,40,60,80,100],"grid":true,"labelPadding":10,"titlePadding":12,"titleFontSize":42,"format":"d"}}},
"layer":[
{"data":{"name":"ex"},"mark":{"type":"line","color":"black","interpolate":"linear"},
"encoding":{"detail":{"field":"p","type":"nominal"},"strokeWidth":{"condition":{"test":"datum.p === 1","value":2.2},"value":1.2}}},
{"data":{"name":"pg"},"mark":{"type":"point","filled":false,"size":158,"strokeWidth":2.1,"color":"black","opacity":1},
"encoding":{"detail":{"field":"p","type":"nominal"},
"shape":{"datum":"PEREGRINE","type":"nominal","scale":{"domain":["PEREGRINE","Exradin A14P"],"range":["circle","M-3.9,1.33H3.9"]},
"legend":{"title":" ","titleOrient":"bottom","titleFontSize":18,"titlePadding":12,"orient":"none","legendX":958.7,"legendY":148,"padding":12.5,"symbolSize":81,"symbolStrokeWidth":1.5,"symbolStrokeColor":"black","symbolFillColor":"transparent","rowPadding":79,"labelOffset":28,"labelFontSize":33,"labelFont":"Liberation Sans","labelColor":"black","labelLimit":400,"fillColor":"white","strokeColor":"black"}}}}
]},
{"data":{"values":[{}]},"mark":{"type":"rule","color":"black","strokeWidth":1.5},"encoding":{"x":{"datum":20,"type":"quantitative"}}}
]
}
